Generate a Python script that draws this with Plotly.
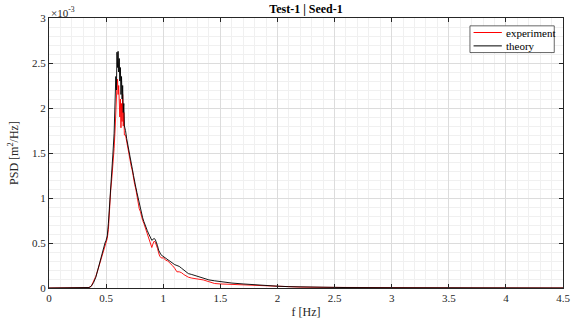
import plotly.graph_objects as go

# frequency [Hz]
freq = [0.00, 0.30, 0.35, 0.37, 0.39, 0.41, 0.43, 0.45, 0.47, 0.48, 0.49, 0.50,
        0.51, 0.52, 0.53, 0.54, 0.55, 0.56, 0.57, 0.58, 0.585, 0.59, 0.595, 0.60,
        0.605, 0.61, 0.615, 0.62, 0.625, 0.63, 0.635, 0.64, 0.645, 0.65, 0.655,
        0.66, 0.67, 0.68, 0.69, 0.70, 0.71, 0.72, 0.73, 0.74, 0.75, 0.76, 0.77,
        0.78, 0.79, 0.80, 0.81, 0.82, 0.83, 0.84, 0.85, 0.86, 0.87, 0.88, 0.89,
        0.90, 0.91, 0.92, 0.93, 0.94, 0.95, 0.96, 0.97, 0.98, 0.99, 1.00, 1.02,
        1.04, 1.06, 1.08, 1.10, 1.12, 1.14, 1.16, 1.18, 1.20, 1.22, 1.25, 1.30,
        1.35, 1.40, 1.45, 1.50, 1.60, 1.70, 1.80, 1.90, 2.00, 2.10, 2.20, 2.40,
        2.60, 3.00, 3.50, 4.00, 4.50]

# PSD theory [x1e-3 m^2/Hz]
theory = [0, 0, 0.005, 0.02, 0.06, 0.12, 0.22, 0.31, 0.40, 0.44, 0.50, 0.53,
          0.58, 0.72, 0.95, 1.15, 1.32, 1.50, 1.72, 2.05, 2.35, 2.20, 2.62, 2.45,
          2.63, 2.40, 2.55, 2.30, 2.45, 2.15, 2.35, 2.10, 2.25, 1.95, 2.05,
          1.80, 1.75, 1.66, 1.60, 1.52, 1.45, 1.40, 1.32, 1.25, 1.20, 1.12, 1.06,
          1.00, 0.92, 0.88, 0.82, 0.78, 0.74, 0.70, 0.67, 0.64, 0.61, 0.58, 0.55,
          0.53, 0.54, 0.55, 0.54, 0.51, 0.47, 0.42, 0.39, 0.37, 0.36, 0.35, 0.33,
          0.31, 0.30, 0.28, 0.26, 0.25, 0.24, 0.22, 0.20, 0.18, 0.16, 0.15, 0.13,
          0.11, 0.09, 0.08, 0.07, 0.055, 0.045, 0.035, 0.027, 0.02, 0.015, 0.012, 0.008,
          0.005, 0.003, 0.002, 0.001, 0.0005]

# PSD experiment [x1e-3 m^2/Hz]
experiment = [0, 0, 0.005, 0.02, 0.07, 0.13, 0.21, 0.30, 0.38, 0.42, 0.46, 0.50,
              0.55, 0.65, 0.90, 1.08, 1.22, 1.35, 1.55, 1.80, 2.05, 2.00, 2.25, 2.32,
              2.15, 2.25, 2.05, 1.90, 2.10, 1.78, 2.05, 1.85, 2.15, 1.80, 1.95,
              1.70, 1.70, 1.62, 1.55, 1.48, 1.40, 1.35, 1.30, 1.20, 1.15, 1.10, 1.02,
              0.96, 0.88, 0.85, 0.78, 0.75, 0.72, 0.68, 0.65, 0.61, 0.57, 0.52, 0.47,
              0.45, 0.49, 0.52, 0.51, 0.48, 0.44, 0.39, 0.35, 0.34, 0.33, 0.34, 0.31,
              0.30, 0.28, 0.25, 0.22, 0.18, 0.18, 0.17, 0.15, 0.13, 0.12, 0.11, 0.10,
              0.09, 0.07, 0.05, 0.045, 0.04, 0.035, 0.03, 0.025, 0.018, 0.013, 0.01, 0.007,
              0.005, 0.003, 0.002, 0.001, 0.0005]

series_names = ["experiment", "theory"]
series_colors = ["#ff0000", "#000000"]

x_ticks = [0, 0.5, 1, 1.5, 2, 2.5, 3, 3.5, 4, 4.5]
y_ticks = [0, 0.5, 1, 1.5, 2, 2.5, 3]

FONT = "Liberation Serif, Times New Roman, serif"

fig = go.Figure()
for name, color, ys in zip(series_names, series_colors, [experiment, theory]):
    fig.add_trace(go.Scatter(x=freq, y=ys, mode="lines", name=name, showlegend=False,
                             line=dict(color=color, width=0.9)))

axis_common = dict(
    showline=True, linecolor="#262626", linewidth=1, mirror="ticks",
    ticks="inside", ticklen=4, tickcolor="#262626",
    showgrid=True, gridcolor="#dcdcdc", gridwidth=1,
    zeroline=False,
    tickfont=dict(family=FONT, size=11, color="#262626"),
)

fig.update_xaxes(range=[0, 4.5], tickvals=x_ticks, ticktext=[str(v) for v in x_ticks],
                 minor=dict(dtick=0.1, showgrid=True, gridcolor="#f0f0f0", ticks=""),
                 title=dict(text="f [Hz]", font=dict(family=FONT, size=12, color="#262626"), standoff=4),
                 **axis_common)
fig.update_yaxes(range=[0, 3], tickvals=y_ticks, ticktext=[f"{v:g}" for v in y_ticks],
                 minor=dict(dtick=0.1, showgrid=True, gridcolor="#f0f0f0", ticks=""),
                 title=dict(text="PSD [m<sup>2</sup>/Hz]", font=dict(family=FONT, size=12, color="#262626"), standoff=10),
                 **axis_common)

# compact MATLAB-style legend box (paper coordinates)
lx0, lx1, ly0, ly1 = 0.819, 0.983, 0.872, 0.971
shapes = [dict(type="rect", xref="paper", yref="paper", x0=lx0, x1=lx1, y0=ly0, y1=ly1,
               line=dict(color="#262626", width=0.7), fillcolor="white", layer="above")]
annotations = [dict(text="×10<sup>-3</sup>", x=0, y=1, xref="paper", yref="paper",
                    xanchor="left", yanchor="bottom", showarrow=False, yshift=-3,
                    font=dict(family=FONT, size=11, color="#262626"))]
row_h = (ly1 - ly0) / 2
for i, (name, color) in enumerate(zip(series_names, series_colors)):
    yc = ly1 - row_h * (i + 0.5)
    shapes.append(dict(type="line", xref="paper", yref="paper", x0=lx0 + 0.007, x1=lx0 + 0.062,
                       y0=yc, y1=yc, line=dict(color=color, width=1), layer="above"))
    annotations.append(dict(text=name, x=lx0 + 0.066, y=yc, xref="paper", yref="paper",
                            xanchor="left", yanchor="middle", showarrow=False,
                            font=dict(family=FONT, size=11, color="black")))

fig.update_layout(
    width=582, height=329,
    font=dict(family=FONT, size=11, color="#262626"),
    margin=dict(l=49, r=14, t=18, b=38),
    paper_bgcolor="white", plot_bgcolor="white",
    title=dict(text="<b>Test-1 | Seed-1</b>", x=0.5, xref="paper", y=0.985, yanchor="top",
               font=dict(family=FONT, size=12, color="black")),
    showlegend=False,
    shapes=shapes,
    annotations=annotations,
)

fig.write_html("out.html")
